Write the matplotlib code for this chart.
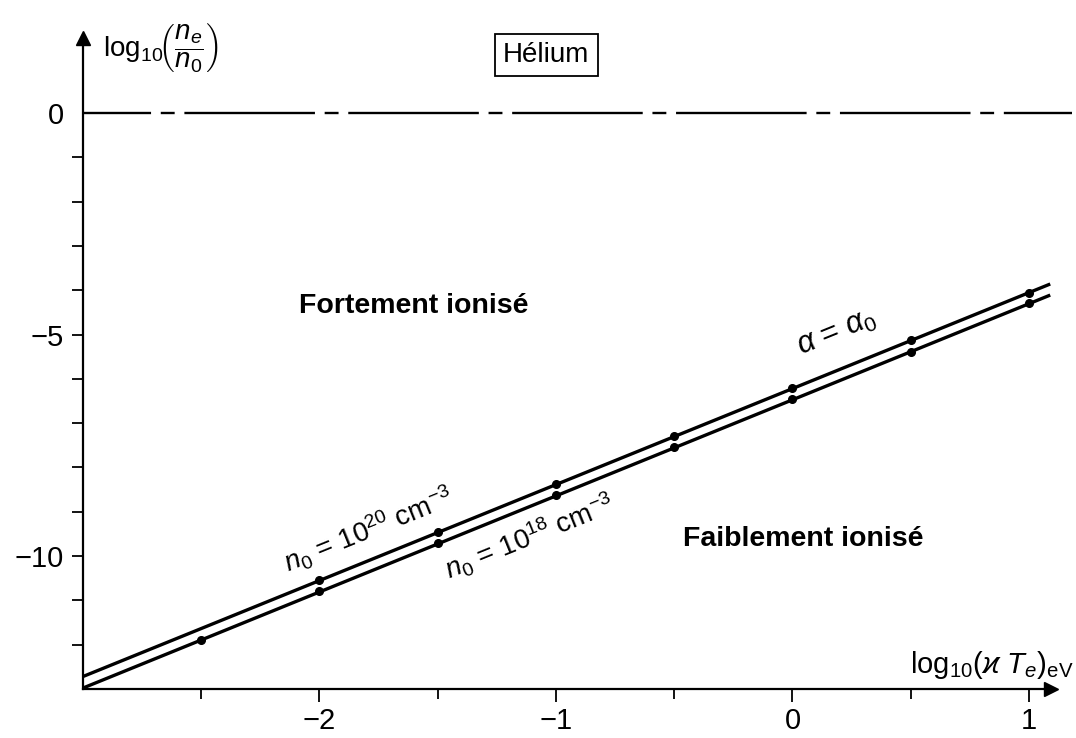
import matplotlib
matplotlib.use('Agg')
import matplotlib.pyplot as plt
import numpy as np

plt.rcParams['font.family'] = ['Liberation Sans', 'DejaVu Sans']
plt.rcParams['mathtext.fontset'] = 'custom'
plt.rcParams['mathtext.rm'] = 'Liberation Sans'
plt.rcParams['mathtext.it'] = 'Liberation Sans:italic'
plt.rcParams['mathtext.bf'] = 'Liberation Sans:bold'
plt.rcParams['lines.scale_dashes'] = False

# log10(kappa Te) in eV where the points were computed
x_high = [-2.0, -1.5, -1.0, -0.5, 0.0, 0.5, 1.0]
x_low = [-2.5, -2.0, -1.5, -1.0, -0.5, 0.0, 0.5, 1.0]
# log10(ne/n0) at alpha = alpha0
y_high = [-10.54, -9.46, -8.38, -7.29, -6.21, -5.12, -4.06]   # n0 = 1e20 cm-3
y_low = [-11.90, -10.79, -9.71, -8.62, -7.54, -6.46, -5.39, -4.29]  # n0 = 1e18 cm-3

# end points of the straight lines through the points
line_x = [-3.0, 1.09]
line_high = [-12.72, -3.86]
line_low = [-12.98, -4.11]

xticks = [-2, -1, 0, 1]
xminor = [-2.5, -1.5, -0.5, 0.5]
yticks = [0, -5, -10]
yminor = [-1, -2, -3, -4, -6, -7, -8, -9, -11, -12]

fig = plt.figure(figsize=(10.76, 7.38), dpi=100)
ax = fig.add_axes([0, 0, 1, 1])
ax.set_xlim(-3.351, 1.199)
ax.set_ylim(-14.108, 2.551)

# axes drawn as arrows from the origin (-3, -13)
for s in ['top', 'right']:
    ax.spines[s].set_visible(False)
ax.spines['left'].set_position(('data', -3))
ax.spines['bottom'].set_position(('data', -13))
ax.spines['left'].set_bounds(-13, 1.65)
ax.spines['bottom'].set_bounds(-3, 1.09)
for s in ['left', 'bottom']:
    ax.spines[s].set_linewidth(1.6)
ax.plot(-3, 1.70, marker='^', ms=10, color='k', clip_on=False)
ax.plot(1.095, -13, marker='>', ms=10, color='k', clip_on=False)

ax.set_xticks(xticks)
ax.set_xticklabels(['\u22122', '\u22121', '0', '1'])
ax.set_xticks(xminor, minor=True)
ax.set_yticks(yticks)
ax.set_yticklabels(['0', '\u22125', '\u221210'])
ax.set_yticks(yminor, minor=True)
ax.tick_params(which='both', direction='out', width=1.3, labelsize=21)
ax.tick_params(axis='x', which='major', length=9, pad=4)
ax.tick_params(axis='x', which='minor', length=7)
ax.tick_params(axis='y', which='both', length=8, pad=6)
ax.yaxis.get_major_ticks()[0].tick1line.set_visible(False)

# full ionisation level
ax.plot([-3, 1.18], [0, 0], color='k', lw=1.7, linestyle=(45, (94, 7, 10, 7)))

ax.plot(line_x, line_high, color='k', lw=2.4, solid_capstyle='butt')
ax.plot(line_x, line_low, color='k', lw=2.4, solid_capstyle='butt')
ax.plot(x_high, y_high, 'o', color='k', ms=5.5)
ax.plot(x_low, y_low, 'o', color='k', ms=5.5)

# angle of the lines on screen
p0 = ax.transData.transform((line_x[0], line_high[0]))
p1 = ax.transData.transform((line_x[1], line_high[1]))
ang = np.degrees(np.arctan2(p1[1] - p0[1], p1[0] - p0[0]))
slope = (line_high[1] - line_high[0]) / (line_x[1] - line_x[0])

def on_high(x):
    return line_high[0] + slope * (x - line_x[0])

def on_low(x):
    return line_low[0] + slope * (x - line_x[0])

ax.text(-2.12, on_high(-2.12) + 0.3, r'$n_0$ = 10$^{20}$ cm$^{-3}$', fontsize=20,
        rotation=ang, rotation_mode='anchor', ha='left', va='bottom')
ax.text(-1.49, on_low(-1.49) - 0.3, r'$n_0$ = 10$^{18}$ cm$^{-3}$', fontsize=20,
        rotation=ang, rotation_mode='anchor', ha='left', va='top')
ax.text(0.05, on_high(0.05) + 0.5, r'$\alpha$ = $\alpha_0$', fontsize=22,
        rotation=ang, rotation_mode='anchor', ha='left', va='bottom')

ax.text(-1.60, -4.36, 'Fortement ionisé', fontsize=20.5, fontweight='bold',
        ha='center', va='center')
ax.text(0.044, -9.62, 'Faiblement ionisé', fontsize=20.5, fontweight='bold',
        ha='center', va='center')
ax.text(-1.042, 1.31, 'Hélium', fontsize=20, ha='center', va='center',
        bbox=dict(boxstyle='square,pad=0.3', fc='white', ec='k', lw=1.3))

ax.text(-2.915, 1.49, r'$\mathrm{log}_{10}\!\left(\dfrac{n_e}{n_0}\right)$',
        fontsize=20, ha='left', va='center')
ax.text(1.19, -12.45, r'$\mathrm{log}_{10}(\varkappa\ T_e)_{\mathrm{eV}}$',
        fontsize=21, ha='right', va='center')

fig.savefig('out.png', dpi=100)
